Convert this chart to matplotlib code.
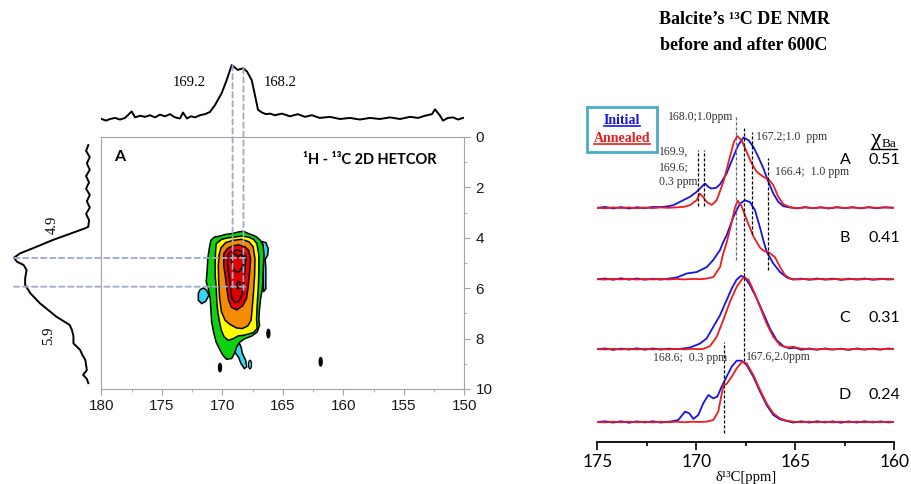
import numpy as np
import matplotlib
matplotlib.use("Agg")
import matplotlib.pyplot as plt
from matplotlib.patches import ConnectionPatch, Ellipse, Rectangle
from matplotlib.lines import Line2D
from matplotlib.ticker import MultipleLocator

# ---------------- left panel: 1H-13C 2D HETCOR ----------------
# 13C projection on top (13C ppm, intensity)
proj_c = [(179.97, 0.0), (179.61, -0.03), (179.28, 0.0), (178.87, 0.02), (178.45, -0.01),
          (178.04, 0.02), (177.49, 0.14), (177.21, 0.03), (176.80, 0.06), (176.39, 0.04),
          (175.98, 0.07), (175.56, 0.03), (175.15, 0.08), (174.74, 0.05), (174.32, 0.09),
          (173.91, 0.03), (173.50, 0.01), (173.25, 0.12), (172.92, 0.01), (172.59, 0.05),
          (172.26, 0.03), (171.84, 0.07), (171.43, 0.09), (171.02, 0.13), (170.60, 0.26),
          (170.05, 0.48), (169.64, 0.72), (169.22, 1.0), (168.73, 0.91), (168.26, 0.94),
          (167.96, 0.88), (167.57, 0.72), (167.30, 0.44), (167.05, 0.17), (166.72, 0.12),
          (166.39, 0.09), (166.06, 0.10), (165.65, 0.07), (165.07, 0.10), (164.41, 0.05),
          (163.75, 0.09), (163.17, 0.04), (162.60, 0.07), (161.94, 0.02), (161.11, 0.04),
          (160.28, 0.0), (159.45, 0.02), (158.63, -0.01), (157.80, 0.02), (156.97, 0.0),
          (156.15, 0.03), (155.31, 0.0), (154.49, 0.04), (153.83, 0.02), (153.25, 0.06),
          (152.67, 0.09), (152.42, 0.18), (152.0, 0.06), (151.76, -0.03), (151.35, 0.02),
          (150.93, 0.03), (150.51, -0.01), (150.1, 0.02)]

# 1H projection on the left (1H ppm, intensity)
proj_h = [(0.32, 0.0), (0.55, 0.03), (0.8, -0.02), (1.05, 0.02), (1.3, -0.02), (1.55, 0.03),
          (1.8, -0.01), (2.05, 0.03), (2.3, -0.02), (2.55, 0.02), (2.8, -0.02), (3.05, 0.03),
          (3.3, -0.01), (3.56, 0.0), (3.62, 0.04), (4.09, 0.48), (4.42, 0.75), (4.62, 0.92),
          (4.79, 1.0), (4.95, 0.96), (5.08, 0.87), (5.28, 0.83), (5.61, 0.85), (5.87, 0.85),
          (6.20, 0.78), (6.60, 0.65), (7.13, 0.43), (7.46, 0.25), (7.66, 0.22), (7.9, 0.2),
          (8.19, 0.2), (8.45, 0.11), (8.65, 0.08), (8.85, 0.04), (9.05, 0.03), (9.25, 0.02),
          (9.44, 0.07), (9.6, 0.02), (9.77, 0.0)]

# contour outlines (13C ppm, 1H ppm)
cyan_left = [(171.98, 6.21), (171.84, 6.06), (171.56, 5.99), (171.29, 6.08), (171.10, 6.28),
             (171.37, 6.52), (171.70, 6.61), (171.98, 6.48)]
cyan_right = [(166.80, 4.14), (166.40, 4.19), (166.20, 4.43), (166.25, 4.69), (166.45, 4.85),
              (166.40, 5.22), (166.40, 6.02), (166.60, 6.15), (166.62, 5.49), (166.60, 4.96),
              (166.62, 4.30)]
cyan_bottom = [(169.09, 8.13), (168.67, 8.11), (168.45, 8.33), (168.34, 8.59), (168.07, 8.86),
               (167.98, 9.12), (168.18, 9.19), (168.45, 8.99), (168.67, 8.73), (168.89, 8.59),
               (169.00, 8.40)]
green = [(170.95, 4.10), (170.65, 3.97), (170.19, 3.93), (169.77, 3.87), (169.22, 3.83),
         (168.67, 3.77), (168.26, 3.74), (167.85, 3.83), (167.43, 3.90), (167.16, 3.97),
         (166.85, 4.10), (166.63, 4.30), (166.55, 4.69), (166.60, 5.09), (166.63, 5.49),
         (166.68, 6.02), (166.83, 6.41), (166.92, 6.81), (166.98, 7.21), (166.92, 7.47),
         (167.12, 7.74), (167.57, 7.90), (168.12, 8.00), (168.53, 8.13), (168.81, 8.33),
         (169.00, 8.59), (169.22, 8.79), (169.64, 8.82), (169.95, 8.66), (170.25, 8.40),
         (170.52, 8.13), (170.72, 7.74), (170.88, 7.34), (170.95, 6.81), (171.00, 6.41),
         (171.15, 6.02), (171.33, 5.75), (171.26, 5.35), (171.20, 4.83), (171.08, 4.43)]
yellow = [(170.50, 4.23), (170.05, 4.06), (169.50, 4.00), (168.95, 3.97), (168.40, 3.93),
          (167.85, 3.97), (167.43, 4.06), (167.14, 4.23), (166.98, 4.69), (166.98, 5.35),
          (167.03, 6.02), (167.12, 6.68), (167.17, 7.21), (167.12, 7.60), (167.43, 7.76),
          (167.85, 7.82), (168.26, 7.87), (168.67, 7.89), (169.09, 8.00), (169.50, 8.07),
          (169.85, 7.93), (170.08, 7.67), (170.23, 7.34), (170.37, 6.94), (170.45, 6.54),
          (170.50, 6.02), (170.59, 5.49), (170.59, 4.96), (170.56, 4.56)]
orange = [(170.11, 4.40), (169.72, 4.19), (169.09, 4.10), (168.40, 4.06), (167.79, 4.16),
          (167.45, 4.36), (167.30, 4.83), (167.33, 5.49), (167.42, 6.15), (167.53, 6.81),
          (167.62, 7.27), (167.90, 7.50), (168.34, 7.60), (168.81, 7.58), (169.36, 7.44),
          (169.77, 7.27), (170.07, 6.94), (170.22, 6.41), (170.30, 5.75), (170.33, 5.09),
          (170.27, 4.69)]
red_outer = [(169.88, 4.63), (169.58, 4.43), (169.17, 4.32), (168.67, 4.28), (168.18, 4.34),
             (167.82, 4.49), (167.66, 4.83), (167.74, 5.35), (167.86, 5.95), (168.00, 6.41),
             (168.32, 6.70), (168.81, 6.86), (169.24, 6.76), (169.48, 6.48), (169.62, 6.02),
             (169.76, 5.49), (169.88, 5.09)]
red_mid = [(169.56, 4.69), (169.22, 4.53), (168.73, 4.49), (168.26, 4.56), (168.04, 4.76),
           (168.12, 5.22), (168.23, 5.75), (168.34, 6.21), (168.62, 6.52), (168.95, 6.57),
           (169.22, 6.39), (169.33, 5.95), (169.44, 5.49), (169.56, 5.09)]
red_inner = [(169.28, 4.72), (168.95, 4.64), (168.67, 4.75), (168.40, 4.65), (168.18, 4.80),
             (168.26, 5.09), (168.45, 5.25), (168.62, 5.35), (168.89, 5.35), (169.11, 5.20),
             (169.22, 4.96)]
red_spot = [(168.81, 5.86), (168.67, 5.72), (168.51, 5.82), (168.51, 5.99), (168.73, 6.02)]
# small isolated islands (13C ppm, 1H ppm, colour)
islands = [(167.71, 9.03, "#35d6ee"), (170.19, 9.15, "black"), (166.19, 7.80, "black"),
           (161.87, 8.92, "black")]

peaks_c = [169.15, 168.25]      # 13C cross peaks
peaks_c_top = [1.0, 0.94]
peaks_h = [4.8, 5.94]           # 1H cross peaks

# ---------------- right panel: 13C DE NMR ----------------
letters = ["A", "B", "C", "D"]
x_ba = ["0.51", "0.41", "0.31", "0.24"]
offsets = [3.0, 2.0, 1.02, 0.0]
label_y = [3.67, 2.58, 1.46, 0.38]

blue_A = [(175.0, 0.0), (174.6, 0.012), (174.2, -0.008), (173.8, 0.01), (173.4, -0.01), (173.0, 0.008),
          (172.6, -0.004), (172.2, 0.012), (171.8, 0.01), (171.45, 0.02), (171.16, 0.037), (170.82, 0.084),
          (170.32, 0.154), (169.98, 0.224), (169.73, 0.294), (169.56, 0.34), (169.38, 0.29), (169.22, 0.27),
          (169.0, 0.28), (168.80, 0.33), (168.47, 0.48), (168.13, 0.714), (167.88, 0.878), (167.62, 0.985),
          (167.37, 0.948), (167.12, 0.854), (166.87, 0.714), (166.61, 0.551), (166.36, 0.364), (166.11, 0.20),
          (165.86, 0.084), (165.61, 0.023), (165.27, 0.005), (164.9, -0.008), (164.5, 0.01), (164.1, -0.006),
          (163.7, 0.008), (163.3, -0.01), (162.9, 0.01), (162.5, -0.004), (162.1, 0.009), (161.7, -0.008),
          (161.3, 0.01), (160.9, -0.006), (160.5, 0.008), (160.0, 0.0)]
red_A = [(175.0, 0.0), (174.6, -0.006), (174.2, 0.006), (173.8, -0.004), (173.4, 0.006), (173.0, -0.006),
         (172.6, 0.004), (172.2, -0.004), (171.8, 0.005), (171.4, 0.0), (171.0, 0.006), (170.6, 0.015),
         (170.32, 0.037), (169.98, 0.107), (169.83, 0.20), (169.68, 0.16), (169.48, 0.084), (169.22, 0.04),
         (168.97, 0.107), (168.63, 0.364), (168.30, 0.714), (168.10, 0.924), (167.93, 1.004), (167.71, 0.948),
         (167.46, 0.784), (167.20, 0.621), (166.95, 0.504), (166.61, 0.434), (166.31, 0.387), (166.11, 0.317),
         (165.86, 0.154), (165.61, 0.051), (165.27, 0.009), (164.9, -0.005), (164.5, 0.005), (164.1, -0.004),
         (163.7, 0.004), (163.3, -0.005), (162.9, 0.005), (162.5, -0.003), (162.1, 0.004), (161.7, -0.004),
         (161.3, 0.006), (160.9, 0.0), (160.5, 0.004), (160.0, 0.0)]
blue_B = [(175.0, 0.0), (174.6, 0.01), (174.2, -0.008), (173.8, 0.012), (173.4, -0.006), (173.0, 0.01),
          (172.6, -0.008), (172.2, 0.006), (171.8, -0.006), (171.4, 0.008), (170.99, 0.024), (170.48, 0.08),
          (169.98, 0.10), (169.47, 0.17), (169.14, 0.27), (168.80, 0.41), (168.64, 0.52), (168.46, 0.62),
          (168.13, 0.87), (167.79, 1.06), (167.54, 1.106), (167.29, 1.08), (167.04, 0.97), (166.78, 0.72),
          (166.6, 0.53), (166.44, 0.38), (166.11, 0.22), (165.77, 0.10), (165.43, 0.024), (165.1, -0.006),
          (164.7, 0.008), (164.3, -0.008), (163.9, 0.01), (163.5, -0.006), (163.1, 0.008), (162.7, -0.01),
          (162.3, 0.008), (161.9, -0.006), (161.5, 0.01), (161.1, -0.008), (160.7, 0.006), (160.3, -0.004),
          (160.0, 0.0)]
red_B = [(175.0, 0.0), (174.6, -0.005), (174.2, 0.005), (173.8, -0.004), (173.4, 0.005), (173.0, -0.005),
         (172.6, 0.004), (172.2, -0.004), (171.8, 0.005), (171.4, -0.004), (171.0, 0.004), (170.6, -0.003),
         (170.2, 0.004), (169.8, 0.0), (169.5, 0.008), (169.14, 0.03), (168.80, 0.17), (168.64, 0.36),
         (168.46, 0.52), (168.21, 0.8), (168.05, 1.0), (167.91, 1.1), (167.71, 1.02), (167.45, 0.83),
         (167.12, 0.6), (166.78, 0.44), (166.55, 0.39), (166.36, 0.38), (166.03, 0.31), (165.77, 0.17),
         (165.52, 0.056), (165.27, 0.01), (164.9, -0.004), (164.5, 0.004), (164.1, -0.004), (163.7, 0.005),
         (163.3, -0.004), (162.9, 0.004), (162.5, -0.005), (162.1, 0.004), (161.7, -0.003), (161.3, 0.005),
         (160.9, -0.004), (160.5, 0.004), (160.0, 0.0)]
blue_C = [(175.0, 0.0), (174.6, 0.01), (174.2, -0.01), (173.8, 0.008), (173.4, -0.006), (173.0, 0.012),
          (172.6, -0.008), (172.2, 0.01), (171.8, -0.006), (171.4, 0.008), (171.0, 0.0), (170.6, 0.012),
          (170.32, 0.023), (169.81, 0.079), (169.48, 0.15), (169.14, 0.313), (168.80, 0.476), (168.47, 0.686),
          (168.21, 0.85), (167.96, 0.976), (167.74, 1.027), (167.54, 1.004), (167.29, 0.896), (166.95, 0.71),
          (166.61, 0.5), (166.28, 0.29), (165.94, 0.126), (165.60, 0.042), (165.30, 0.012), (165.0, 0.02),
          (164.7, -0.008), (164.3, 0.01), (163.9, -0.008), (163.5, 0.01), (163.1, -0.006), (162.7, 0.008),
          (162.3, -0.01), (161.9, 0.01), (161.5, -0.006), (161.1, 0.008), (160.7, -0.006), (160.3, 0.01),
          (160.0, 0.0)]
red_C = [(175.0, 0.0), (174.6, -0.004), (174.2, 0.005), (173.8, -0.005), (173.4, 0.004), (173.0, -0.004),
         (172.6, 0.005), (172.2, -0.004), (171.8, 0.004), (171.4, -0.004), (171.0, 0.005), (170.6, -0.003),
         (170.2, 0.004), (169.9, 0.0), (169.65, 0.004), (169.31, 0.042), (168.97, 0.173), (168.64, 0.406),
         (168.30, 0.663), (167.96, 0.873), (167.62, 1.004), (167.37, 0.976), (167.12, 0.826), (166.78, 0.593),
         (166.45, 0.36), (166.11, 0.173), (165.77, 0.056), (165.44, 0.023), (165.10, 0.033), (164.76, 0.009),
         (164.4, 0.004), (164.0, -0.004), (163.6, 0.005), (163.2, -0.004), (162.8, 0.004), (162.4, -0.005),
         (162.0, 0.004), (161.6, -0.003), (161.2, 0.005), (160.8, -0.004), (160.4, 0.004), (160.0, 0.0)]
blue_D = [(175.0, 0.0), (174.6, 0.01), (174.2, -0.008), (173.8, 0.01), (173.4, -0.01), (173.0, 0.008),
          (172.6, -0.006), (172.2, 0.01), (171.8, -0.008), (171.33, 0.005), (170.91, 0.028), (170.57, 0.145),
          (170.35, 0.121), (170.15, 0.042), (169.90, 0.098), (169.65, 0.261), (169.39, 0.378), (169.14, 0.331),
          (168.94, 0.355), (168.72, 0.495), (168.47, 0.635), (168.21, 0.775), (167.96, 0.859), (167.71, 0.859),
          (167.46, 0.798), (167.12, 0.635), (166.78, 0.425), (166.45, 0.238), (166.11, 0.098), (165.77, 0.037),
          (165.44, 0.014), (165.1, -0.008), (164.7, 0.01), (164.3, -0.008), (163.9, 0.01), (163.5, -0.006),
          (163.1, 0.008), (162.7, -0.01), (162.3, 0.008), (161.9, -0.008), (161.5, 0.01), (161.1, -0.006),
          (160.7, 0.008), (160.3, -0.006), (160.0, 0.0)]
red_D = [(175.0, 0.0), (174.6, -0.005), (174.2, 0.005), (173.8, -0.004), (173.4, 0.005), (173.0, -0.004),
         (172.6, 0.004), (172.2, -0.005), (171.8, 0.004), (171.4, -0.003), (171.0, 0.004), (170.6, -0.004),
         (170.2, 0.004), (169.8, 0.0), (169.48, 0.005), (169.14, 0.028), (168.89, 0.145), (168.63, 0.518),
         (168.47, 0.532), (168.21, 0.635), (167.96, 0.752), (167.67, 0.845), (167.46, 0.822), (167.12, 0.658),
         (166.78, 0.448), (166.45, 0.261), (166.11, 0.121), (165.77, 0.051), (165.44, 0.019), (165.1, 0.004),
         (164.7, -0.004), (164.3, 0.005), (163.9, -0.004), (163.5, 0.004), (163.1, -0.005), (162.7, 0.004),
         (162.3, -0.004), (161.9, 0.005), (161.5, -0.004), (161.1, 0.004), (160.7, -0.003), (160.3, 0.004),
         (160.0, 0.0)]
blue_spectra = [blue_A, blue_B, blue_C, blue_D]
red_spectra = [red_A, red_B, red_C, red_D]

# peak markers: (ppm, top, bottom)
markers = [(168.0, 4.30, 2.27), (167.6, 4.12, 0.85), (167.2, 4.06, 2.64), (166.4, 3.70, 2.13),
           (169.9, 3.81, 3.03), (169.6, 3.81, 3.03), (168.6, 1.12, -0.15)]


def box(l, t, r, b):
    # pixel box -> figure fraction
    return [l / 911, 1 - b / 484, (r - l) / 911, (b - t) / 484]


fig = plt.figure(figsize=(9.11, 4.84), dpi=100)
serif = "Liberation Serif"
gray = "#a3a3a3"
dash_col = "#9dabc6"

# main 2D map
ax = fig.add_axes(box(101.3, 137, 464.3, 389))
ax.set_xlim(180, 150)
ax.set_ylim(10, 0)
for s in ax.spines.values():
    s.set_color(gray)
ax.yaxis.tick_right()
ax.xaxis.set_major_locator(MultipleLocator(5))
ax.xaxis.set_minor_locator(MultipleLocator(2.5))
ax.yaxis.set_major_locator(MultipleLocator(2))
ax.yaxis.set_minor_locator(MultipleLocator(1))
ax.tick_params(which="both", direction="out", color=gray, labelcolor="#1a1a1a")
ax.tick_params(which="major", length=4)
ax.tick_params(which="minor", length=2.5)
ax.tick_params(axis="x", labelsize=11, pad=3.5)
ax.tick_params(axis="y", labelsize=11, pad=4)
for lab in ax.get_xticklabels() + ax.get_yticklabels():
    lab.set_fontfamily("Liberation Sans")

for poly, col in [(cyan_left, "#35d6ee"), (cyan_right, "#35d6ee"), (cyan_bottom, "#35d6ee"),
                  (green, "#0fd10f"), (yellow, "#ffff00"), (orange, "#f68a00"),
                  (red_outer, "#f00000"), (red_mid, "#e00000"), (red_inner, "#e00000"),
                  (red_spot, "#e00000")]:
    c, h = zip(*poly)
    ax.fill(c, h, facecolor=col, edgecolor="black", linewidth=1.1)
for c, h, col in islands:
    ax.add_patch(Ellipse((c, h), 0.25, 0.34, facecolor=col, edgecolor="black", linewidth=0.9))

ax.text(178.45, 0.78, "A", fontfamily="Lato", fontweight="bold", fontsize=11.5, ha="center", va="center")
ax.text(157.8, 0.91, "¹H - ¹³C 2D HETCOR", fontfamily="Lato", fontweight="bold", fontsize=10.5,
        ha="center", va="center")

# top 13C projection
ax_top = fig.add_axes(box(101.3, 55, 464.3, 125))
ax_top.set_xlim(180, 150)
ax_top.set_ylim(-0.111, 1.185)
ax_top.axis("off")
c, i = zip(*proj_c)
ax_top.plot(c, i, color="black", linewidth=1.4)
ax_top.text(172.71, 0.68, "169.2", fontfamily=serif, fontsize=10.5, ha="center", va="center")
ax_top.text(165.23, 0.68, "168.2", fontfamily=serif, fontsize=10.5, ha="center", va="center")

# left 1H projection
ax_left = fig.add_axes(box(0, 137, 95, 389))
ax_left.set_xlim(1.188, -0.09)
ax_left.set_ylim(10, 0)
ax_left.axis("off")
h, i = zip(*proj_h)
ax_left.plot(i, h, color="black", linewidth=1.4)
ax_left.text(0.49, 3.49, "4.9", fontfamily=serif, fontsize=10.5, rotation=90, ha="center", va="center")
ax_left.text(0.53, 7.9, "5.9", fontfamily=serif, fontsize=10.5, rotation=90, ha="center", va="center")

for c, top in zip(peaks_c, peaks_c_top):
    fig.add_artist(ConnectionPatch(xyA=(c, top), coordsA=ax_top.transData, xyB=(c, 6.08),
                                   coordsB=ax.transData, color=dash_col, linewidth=1.3,
                                   linestyle=(0, (3, 2))))
for h in peaks_h:
    fig.add_artist(ConnectionPatch(xyA=(1.0, h), coordsA=ax_left.transData, xyB=(168.05, h),
                                   coordsB=ax.transData, color=dash_col, linewidth=1.3,
                                   linestyle=(0, (3, 2))))

# ---------------- right panel ----------------
axr = fig.add_axes(box(597.3, 100, 894.3, 441.7))
axr.set_xlim(175, 160)
axr.set_ylim(-0.276, 4.51)
for side in ["left", "right", "top"]:
    axr.spines[side].set_visible(False)
axr.spines["bottom"].set_linewidth(1.3)
axr.set_yticks([])
axr.xaxis.set_major_locator(MultipleLocator(5))
axr.xaxis.set_minor_locator(MultipleLocator(2.5))
axr.tick_params(axis="x", which="major", length=6, width=1.2, labelsize=12.5, pad=2.5)
axr.tick_params(axis="x", which="minor", length=3, width=1.2)
for lab in axr.get_xticklabels():
    lab.set_fontfamily("Lato")
axr.set_xlabel("δ¹³C[ppm]", fontfamily=serif, fontsize=10.5, labelpad=1)

for blue, red, off in zip(blue_spectra, red_spectra, offsets):
    p, v = np.array(blue).T
    axr.plot(p, v + off, color="#1414e6", linewidth=1.3)
    p, v = np.array(red).T
    axr.plot(p, v + off, color="#ec1c1c", linewidth=1.3)

for p, top, bot in markers:
    col = "#666666" if p == 168.0 else "black"
    axr.plot([p, p], [bot, top], color=col, linewidth=0.9, linestyle=(0, (2.5, 1.5)), clip_on=False)

ann_kw = dict(fontfamily=serif, fontsize=8.5, color="#333333", va="center")
axr.text(168.15, 4.27, "168.0;1.0ppm", ha="right", **ann_kw)
axr.text(166.99, 3.99, "167.2;1.0  ppm", ha="left", **ann_kw)
axr.text(171.89, 3.57, "169.9,\n169.6;\n0.3 ppm", ha="left", linespacing=1.35, **ann_kw)
axr.text(166.03, 3.50, "166.4;  1.0 ppm", ha="left", **ann_kw)
axr.text(172.19, 0.90, "168.6;  0.3 ppm", ha="left", **ann_kw)
axr.text(167.49, 0.915, "167.6,2.0ppm", ha="left", **ann_kw)

for let, val, y in zip(letters, x_ba, label_y):
    axr.text(162.49, y, let, fontfamily="Lato", fontsize=11.5, ha="center", va="center")
    axr.text(160.52, y, val, fontfamily="Lato", fontsize=11.5, ha="center", va="center", clip_on=False)

# chi_Ba header
chi = fig.text(876.5 / 911, 1 - 140 / 484, "χ", fontfamily=serif, fontsize=17, ha="center", va="center")
ba = fig.text(882 / 911, 1 - 144 / 484, "Ba", fontfamily=serif, fontsize=9.5, ha="left", va="center")

fig.text(744 / 911, 1 - 20 / 484, "Balcite’s ¹³C DE NMR", fontfamily=serif, fontweight="bold",
         fontsize=13, ha="center", va="center")
fig.text(744 / 911, 1 - 45 / 484, "before and after 600C", fontfamily=serif, fontweight="bold",
         fontsize=13, ha="center", va="center")

# legend box
fig.add_artist(Rectangle((587.3 / 911, 1 - 151.7 / 484), 70 / 911, 44.4 / 484,
                         transform=fig.transFigure, fill=False, edgecolor="#4bacc6", linewidth=2))
t_init = fig.text(622 / 911, 1 - 120.7 / 484, "Initial", fontfamily=serif, fontweight="bold",
                  fontsize=10, color="#1414e6", ha="center", va="center")
t_ann = fig.text(622 / 911, 1 - 138.3 / 484, "Annealed", fontfamily=serif, fontweight="bold",
                 fontsize=10, color="#ec1c1c", ha="center", va="center")

# underlines
fig.canvas.draw()
inv = fig.transFigure.inverted()
for t, col in [(t_init, "#1414e6"), (t_ann, "#ec1c1c")]:
    bb = t.get_window_extent()
    (x0, y0), (x1, _) = inv.transform([(bb.x0, bb.y0), (bb.x1, bb.y1)])
    fig.add_artist(Line2D([x0, x1], [y0 + 0.002, y0 + 0.002], transform=fig.transFigure,
                          color=col, linewidth=1.2))
b1 = chi.get_window_extent()
b2 = ba.get_window_extent()
(x0, _), (x1, _) = inv.transform([(b1.x0, 0), (b2.x1, 0)])
fig.add_artist(Line2D([x0, x1], [1 - 148.5 / 484] * 2, transform=fig.transFigure, color="black", linewidth=1.0))

fig.savefig("out.png", dpi=100)
